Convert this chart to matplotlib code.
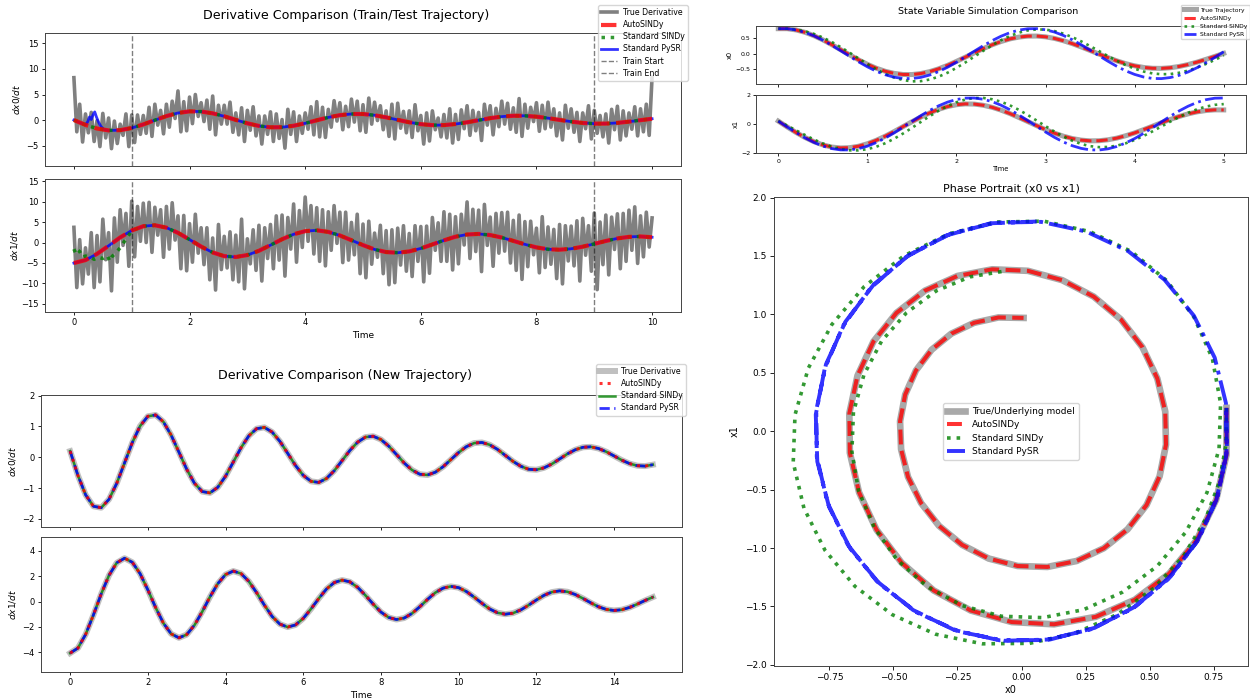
import numpy as np
import matplotlib
matplotlib.use("Agg")
import matplotlib.pyplot as plt

# ---------------- data ----------------
# Train/Test trajectory (smooth derivatives, dt = 0.2)
t_tr = np.linspace(0, 10, 51)
dx0_tr = [0.000, -0.946, -1.664, -2.026, -1.981, -1.557, -0.856, -0.021, 0.776, 1.384,
          1.697, 1.667, 1.319, 0.733, 0.035, -0.635, -1.151, -1.420, -1.403, -1.116,
          -0.630, -0.045, 0.520, 0.957, 1.189, 1.180, 0.937, 0.529, 0.038, -0.437,
          -0.803, -0.998, -0.991, -0.787, -0.444, -0.032, 0.367, 0.674, 0.838, 0.832,
          0.661, 0.373, 0.027, -0.308, -0.566, -0.704, -0.698, -0.555, -0.313, -0.023, 0.259]
dx1_tr = [-5.016, -4.293, -2.779, -0.804, 1.230, 2.927, 3.977, 4.213, 3.625, 2.369,
          0.717, -0.992, -2.426, -3.324, -3.538, -3.061, -2.019, -0.638, 0.797, 2.010,
          2.775, 2.971, 2.585, 1.720, 0.566, -0.640, -1.687, -2.330, -2.494, -2.170,
          -1.444, -0.475, 0.537, 1.416, 1.956, 2.094, 1.822, 1.212, 0.399, -0.451,
          -1.189, -1.642, -1.758, -1.530, -1.017, -0.335, 0.379, 0.998, 1.378, 1.476, 1.284]

# noisy "true" derivative: samples at t = 0.0, 0.1, ... (a) and t = 0.05, 0.15, ... (b)
t_noisy_a = np.linspace(0, 10, 101)
t_noisy_b = np.linspace(0.05, 9.95, 100)
dx0_noisy_a = [8.3, 3.1, 1.2, 1.5, -0.1, 1.3, 0.4, -0.2, -0.8, 1.2,
               1.0, 1.0, 0.9, 2.5, 3.1, 1.9, 3.1, 3.7, 5.7, 3.6,
               4.5, 5.0, 3.4, 3.9, 4.7, 2.9, 2.9, 3.5, 1.4, 2.4,
               1.9, 2.6, 0.8, 0.8, 1.6, 1.2, 0.1, 2.1, 1.6, 0.8,
               1.4, 2.6, 3.6, 2.5, 2.1, 3.8, 3.4, 2.7, 4.1, 3.7,
               3.0, 4.3, 3.5, 2.8, 1.8, 3.1, 3.3, 1.7, 1.8, 3.0,
               0.9, 1.4, 1.8, 0.4, 1.1, 2.2, 1.1, 2.0, 2.8, 1.9,
               1.5, 3.1, 2.8, 2.3, 3.7, 3.3, 2.4, 4.2, 3.1, 2.5,
               3.4, 2.9, 3.5, 2.2, 1.4, 2.9, 2.2, 1.5, 1.4, 2.8,
               1.9, 0.9, 1.2, 2.1, 2.7, 1.8, 1.4, 2.6, 2.2, 3.1, 8.5]
dx0_noisy_b = [-2.3, -4.3, -2.5, -4.2, -5.2, -3.5, -5.6, -4.6, -3.0, -5.2,
               -4.4, -2.8, -2.6, -3.2, -1.0, -2.7, -1.4, 0.3, -2.3, -2.1,
               -0.7, 0.7, -0.3, -1.8, -2.9, -0.8, -0.8, -2.4, -2.9, -4.2,
               -2.0, -3.1, -4.7, -2.8, -4.2, -3.6, -5.5, -2.8, -4.2, -2.6,
               -1.8, -2.9, -3.3, -3.4, -1.4, -0.2, -1.9, -1.3, -0.4, -2.1,
               -2.4, -0.8, -0.1, -1.9, -3.2, -3.7, -1.6, -2.5, -3.4, -2.1,
               -4.7, -4.1, -1.9, -3.3, -3.5, -4.5, -3.8, -1.7, -3.0, -2.1,
               -4.0, -1.0, -2.9, -1.3, -0.8, -1.8, -2.4, -3.2, -1.6, -0.3,
               -2.2, -1.7, -1.4, -3.1, -3.9, -1.6, -2.4, -4.2, -1.7, -3.7,
               -2.6, -3.3, -4.5, -1.9, -3.9, -3.1, -1.8, -3.1, -2.3, -3.0]
dx1_noisy_a = [3.7, 0.7, -1.3, 2.4, 1.7, 5.7, 2.4, 6.0, 8.0, 7.1,
               10.1, 8.8, 9.6, 9.8, 8.6, 8.0, 8.8, 9.7, 6.5, 6.6,
               4.6, 6.9, 3.6, 3.6, 1.1, 4.4, 1.5, 2.6, 1.8, 5.7,
               0.9, 3.1, 4.2, 3.6, 4.4, 6.5, 6.7, 6.1, 9.4, 7.8,
               11.1, 9.0, 8.5, 8.0, 7.5, 9.0, 7.4, 7.4, 4.9, 6.9,
               4.5, 5.2, 2.3, 4.2, 2.9, 3.1, 3.5, 4.1, 2.2, 4.1,
               3.9, 4.0, 6.1, 4.8, 7.5, 6.9, 6.3, 6.9, 9.9, 8.1,
               7.9, 9.3, 6.2, 7.1, 7.3, 7.4, 5.4, 6.7, 5.1, 5.2,
               3.5, 6.3, 3.8, 3.2, 4.4, 4.1, 4.0, 5.3, 5.9, 4.1,
               7.2, 5.0, 6.7, 6.2, 7.0, 7.1, 7.9, 8.7, 6.5, 7.4, 6.0]
dx1_noisy_b = [-11.0, -10.1, -7.7, -11.0, -9.6, -4.2, -11.8, -4.8, -0.7, -5.8,
               -3.5, 0.3, 0.0, -2.4, 1.8, -3.6, -1.6, 0.6, -6.4, -6.9,
               -4.8, -2.6, -5.4, -9.1, -11.6, -6.6, -6.2, -9.1, -9.6, -11.3,
               -5.2, -6.8, -9.4, -3.9, -6.4, -4.3, -8.2, -1.6, -4.8, -1.2,
               0.3, -2.8, -4.6, -5.7, -1.9, -0.2, -4.9, -4.3, -3.0, -7.6,
               -8.6, -5.3, -3.6, -7.6, -10.3, -9.8, -5.5, -7.0, -8.3, -4.6,
               -9.6, -7.5, -1.9, -4.6, -4.6, -6.7, -5.2, -0.6, -3.9, -2.2,
               -7.1, -0.7, -5.8, -2.6, -2.1, -5.0, -6.8, -9.0, -5.9, -3.0,
               -7.4, -6.1, -5.3, -8.8, -10.1, -4.5, -5.7, -9.4, -3.1, -7.0,
               -11.5, -5.4, -7.9, -1.7, -6.4, -4.6, -1.9, -5.1, -3.5, -1.1]

# early deviations of the baselines
t_pysr_early = [0.0, 0.1, 0.2, 0.24, 0.27, 0.30, 0.33, 0.36, 0.39, 0.43, 0.47, 0.52, 0.6]
dx0_pysr_early = [0.0, -0.49, -0.95, -0.3, 0.6, 0.1, 1.0, 1.6, 0.6, -0.5, -1.3, -1.85, -2.03]
t_sindy_early = [0.0, 0.03, 0.06, 0.1, 0.15, 0.2, 0.27, 0.35, 0.42, 0.5, 0.58, 0.62, 0.66,
                 0.72, 0.8, 0.88, 0.95, 1.0]
dx1_sindy_early = [-1.6, -2.6, -1.8, -2.2, -3.6, -3.3, -3.5, -4.1, -3.6, -3.9, -3.2, -4.6,
                   -3.4, -2.6, -1.3, 0.4, 1.8, 2.9]
train_start, train_end = 1.0, 9.0

# New trajectory (dt = 0.2)
t_new = np.linspace(0, 15, 76)
dx0_new = [0.200, -0.586, -1.220, -1.589, -1.634, -1.363, -0.843, -0.185, 0.476, 1.013,
           1.329, 1.373, 1.152, 0.719, 0.169, -0.386, -0.840, -1.111, -1.154, -0.973,
           -0.615, -0.154, 0.313, 0.697, 0.928, 0.970, 0.817, 0.516, 0.129, -0.263,
           -0.585, -0.779, -0.814, -0.686, -0.433, -0.108, 0.221, 0.491, 0.654, 0.683,
           0.576, 0.364, 0.091, -0.186, -0.412, -0.549, -0.573, -0.484, -0.306, -0.076,
           0.156, 0.346, 0.461, 0.481, 0.406, 0.257, 0.064, -0.131, -0.290, -0.387,
           -0.404, -0.341, -0.216, -0.054, 0.110, 0.243, 0.325, 0.339, 0.286, 0.181,
           0.045, -0.092, -0.204, -0.273, -0.285, -0.240]
dx1_new = [-4.062, -3.666, -2.583, -1.056, 0.600, 2.059, 3.050, 3.408, 3.091, 2.196,
           0.921, -0.469, -1.701, -2.545, -2.858, -2.606, -1.865, -0.801, 0.365, 1.404,
           2.121, 2.397, 2.198, 1.585, 0.697, -0.282, -1.179, -1.781, -2.012, -1.845,
           -1.331, -0.585, 0.237, 0.990, 1.495, 1.689, 1.549, 1.117, 0.491, -0.199,
           -0.831, -1.255, -1.418, -1.300, -0.938, -0.412, 0.167, 0.698, 1.054, 1.190,
           1.091, 0.787, 0.346, -0.140, -0.586, -0.885, -0.999, -0.916, -0.661, -0.290,
           0.118, 0.492, 0.743, 0.839, 0.769, 0.555, 0.243, -0.099, -0.413, -0.624,
           -0.704, -0.646, -0.466, -0.204, 0.083, 0.347]
# all three models coincide with the true derivative on the new trajectory
dx0_new_auto = dx0_new_sindy = dx0_new_pysr = dx0_new
dx1_new_auto = dx1_new_sindy = dx1_new_pysr = dx1_new

# State simulation (dt = 0.1)
t_state = np.linspace(0, 5, 51)
x0_true = [0.800, 0.800, 0.760, 0.684, 0.576, 0.442, 0.290, 0.127, -0.038, -0.198,
           -0.343, -0.468, -0.566, -0.634, -0.670, -0.672, -0.640, -0.578, -0.488, -0.377,
           -0.250, -0.114, 0.025, 0.159, 0.282, 0.388, 0.472, 0.530, 0.561, 0.564,
           0.539, 0.488, 0.414, 0.321, 0.215, 0.101, -0.015, -0.128, -0.232, -0.322,
           -0.392, -0.443, -0.470, -0.474, -0.454, -0.412, -0.351, -0.274, -0.185, -0.090, 0.008]
x1_true = [0.200, -0.203, -0.586, -0.930, -1.220, -1.443, -1.589, -1.653, -1.634, -1.535,
           -1.363, -1.126, -0.843, -0.524, -0.185, 0.153, 0.476, 0.767, 1.013, 1.203,
           1.329, 1.386, 1.373, 1.293, 1.152, 0.957, 0.719, 0.452, 0.169, -0.115,
           -0.386, -0.632, -0.840, -1.002, -1.111, -1.162, -1.154, -1.090, -0.973, -0.810,
           -0.615, -0.391, -0.154, 0.085, 0.313, 0.520, 0.697, 0.835, 0.928, 0.974, 0.970]
x0_auto, x1_auto = x0_true, x1_true
x0_sindy = [0.800, 0.798, 0.772, 0.717, 0.633, 0.518, 0.375, 0.210, 0.032, -0.153,
            -0.335, -0.504, -0.650, -0.767, -0.849, -0.891, -0.884, -0.832, -0.740, -0.614,
            -0.458, -0.284, -0.098, 0.088, 0.268, 0.429, 0.567, 0.673, 0.745, 0.777,
            0.771, 0.724, 0.641, 0.530, 0.394, 0.242, 0.083, -0.078, -0.230, -0.368,
            -0.485, -0.575, -0.636, -0.662, -0.656, -0.615, -0.546, -0.449, -0.332, -0.202, -0.063]
x1_sindy = [0.198, -0.111, -0.435, -0.759, -1.067, -1.341, -1.567, -1.729, -1.816, -1.820,
            -1.738, -1.571, -1.328, -1.019, -0.660, -0.268, 0.140, 0.540, 0.914, 1.238,
            1.503, 1.689, 1.791, 1.798, 1.708, 1.538, 1.289, 0.977, 0.622, 0.239,
            -0.150, -0.525, -0.864, -1.154, -1.378, -1.528, -1.596, -1.584, -1.494, -1.332,
            -1.102, -0.824, -0.510, -0.174, 0.163, 0.483, 0.772, 1.014, 1.202, 1.321, 1.372]
x0_pysr = [0.800, 0.800, 0.760, 0.682, 0.571, 0.431, 0.269, 0.094, -0.086, -0.262,
           -0.423, -0.566, -0.678, -0.757, -0.799, -0.801, -0.763, -0.687, -0.577, -0.438,
           -0.277, -0.103, 0.077, 0.253, 0.416, 0.558, 0.673, 0.754, 0.798, 0.802,
           0.766, 0.692, 0.583, 0.446, 0.286, 0.112, -0.068, -0.244, -0.408, -0.553,
           -0.668, -0.751, -0.797, -0.803, -0.768, -0.696, -0.589, -0.453, -0.294, -0.121, 0.059]
x1_pysr = [0.200, -0.202, -0.593, -0.955, -1.270, -1.521, -1.697, -1.788, -1.790, -1.702,
           -1.531, -1.281, -0.972, -0.613, -0.220, 0.181, 0.574, 0.938, 1.255, 1.510,
           1.690, 1.785, 1.792, 1.709, 1.542, 1.297, 0.988, 0.630, 0.240, -0.161,
           -0.555, -0.921, -1.241, -1.499, -1.683, -1.783, -1.794, -1.715, -1.552, -1.309,
           -1.006, -0.649, -0.260, 0.142, 0.536, 0.903, 1.226, 1.488, 1.675, 1.780, 1.795]

# ---------------- figure ----------------
W, H = 1250, 698
fig = plt.figure(figsize=(W / 100, H / 100), dpi=100)
ROUND = dict(solid_joinstyle='round', dash_joinstyle='round')


def add_ax(l, t, r, b):
    return fig.add_axes([l / W, 1 - b / H, (r - l) / W, (b - t) / H])


def fig_xy(x, y):
    return (x / W, 1 - y / H)


def style(ax, size, length):
    ax.tick_params(labelsize=size, length=length, width=0.6, pad=2)
    for s in ax.spines.values():
        s.set_linewidth(0.7)
        s.set_color('#444444')


def merged(ta, va, tb, vb):
    t = np.concatenate([ta, tb])
    v = np.concatenate([va, vb])
    order = np.argsort(t, kind='stable')
    return t[order], v[order]


# ---- Train/Test trajectory ----
ax1 = add_ax(45, 33, 681, 166)
ax2 = add_ax(45, 179, 681, 312)

t_n0, v_n0 = merged(t_noisy_a, dx0_noisy_a, t_noisy_b, dx0_noisy_b)
t_n1, v_n1 = merged(t_noisy_a, dx1_noisy_a, t_noisy_b, dx1_noisy_b)
t_pysr_dx0 = np.concatenate([t_pysr_early, t_tr[4:]])
v_pysr_dx0 = np.concatenate([dx0_pysr_early, dx0_tr[4:]])
t_sindy_dx1 = np.concatenate([t_sindy_early, t_tr[6:]])
v_sindy_dx1 = np.concatenate([dx1_sindy_early, dx1_tr[6:]])

ax1.plot(t_n0, v_n0, color='gray', lw=2.6, label='True Derivative', zorder=1)
ax1.plot(t_tr, dx0_tr, color='red', ls='--', lw=3, alpha=0.8, label='AutoSINDy', zorder=4)
ax1.plot(t_tr, dx0_tr, color='green', ls=':', lw=2.5, alpha=0.8, label='Standard SINDy', zorder=3)
ax1.plot(t_pysr_dx0, v_pysr_dx0, color='blue', lw=2, alpha=0.8, label='Standard PySR', zorder=2)
ax1.axvline(train_start, color='k', ls='--', lw=1, alpha=0.5, label='Train Start')
ax1.axvline(train_end, color='k', ls='--', lw=1, alpha=0.5, label='Train End')

ax2.plot(t_n1, v_n1, color='gray', lw=2.6, zorder=1)
ax2.plot(t_tr, dx1_tr, color='blue', lw=2, alpha=0.8, zorder=2)
ax2.plot(t_sindy_dx1, v_sindy_dx1, color='green', ls=':', lw=2.5, alpha=0.8, zorder=3)
ax2.plot(t_tr, dx1_tr, color='red', ls='--', lw=3, alpha=0.8, zorder=4)
ax2.axvline(train_start, color='k', ls='--', lw=1, alpha=0.5)
ax2.axvline(train_end, color='k', ls='--', lw=1, alpha=0.5)

for ax in (ax1, ax2):
    ax.set_xlim(-0.5, 10.5)
    ax.set_xticks([0, 2, 4, 6, 8, 10])
    style(ax, 6, 2.5)
ax1.set_ylim(-9.0, 17.05)
ax1.set_yticks([-5, 0, 5, 10, 15])
ax2.set_ylim(-16.96, 15.5)
ax2.set_yticks([-15, -10, -5, 0, 5, 10, 15])
ax1.tick_params(labelbottom=False)
ax1.set_ylabel(r'$dx0/dt$', fontsize=6.5, labelpad=3)
ax2.set_ylabel(r'$dx1/dt$', fontsize=6.5, labelpad=1)
ax2.set_xlabel('Time', fontsize=6.5, labelpad=3)
fig.text(*fig_xy(346, 16), 'Derivative Comparison (Train/Test Trajectory)',
         ha='center', va='center', fontsize=9.1)
ax1.legend(loc='upper right', bbox_to_anchor=fig_xy(688, 5), bbox_transform=fig.transFigure,
           fontsize=5.6, borderaxespad=0, labelspacing=0.4)

# ---- New trajectory ----
ax3 = add_ax(41, 395, 682, 527)
ax4 = add_ax(41, 537, 682, 672)
ax3.plot(t_new, dx0_new, color='silver', lw=4.3, label='True Derivative', zorder=1, **ROUND)
ax3.plot(t_new, dx0_new_auto, color='red', ls=':', lw=2.2, alpha=0.8, label='AutoSINDy', zorder=5)
ax3.plot(t_new, dx0_new_sindy, color='green', lw=1.8, alpha=0.8, label='Standard SINDy', zorder=3, **ROUND)
ax3.plot(t_new, dx0_new_pysr, color='blue', ls='--', lw=2, alpha=0.8, label='Standard PySR', zorder=4, **ROUND)
ax4.plot(t_new, dx1_new, color='silver', lw=4.3, zorder=1, **ROUND)
ax4.plot(t_new, dx1_new_auto, color='red', ls=':', lw=2.2, alpha=0.8, zorder=5)
ax4.plot(t_new, dx1_new_sindy, color='green', lw=1.8, alpha=0.8, zorder=3, **ROUND)
ax4.plot(t_new, dx1_new_pysr, color='blue', ls='--', lw=2, alpha=0.8, zorder=4, **ROUND)
for ax in (ax3, ax4):
    ax.set_xlim(-0.75, 15.75)
    ax.set_xticks([0, 2, 4, 6, 8, 10, 12, 14])
    style(ax, 6, 2.5)
ax3.set_ylim(-2.26, 2.02)
ax3.set_yticks([-2, -1, 0, 1, 2])
ax4.set_ylim(-5.55, 5.08)
ax4.set_yticks([-4, -2, 0, 2, 4])
ax3.tick_params(labelbottom=False)
ax3.set_ylabel(r'$dx0/dt$', fontsize=6.5, labelpad=3)
ax4.set_ylabel(r'$dx1/dt$', fontsize=6.5, labelpad=3)
ax4.set_xlabel('Time', fontsize=6.5, labelpad=3)
fig.text(*fig_xy(345, 376), 'Derivative Comparison (New Trajectory)',
         ha='center', va='center', fontsize=9.1)
ax3.legend(loc='upper right', bbox_to_anchor=fig_xy(686, 364), bbox_transform=fig.transFigure,
           fontsize=5.6, borderaxespad=0, labelspacing=0.4)

# ---- State variable simulation ----
ax5 = add_ax(756, 26, 1246, 84)
ax6 = add_ax(756, 95, 1246, 153)
for ax, tr, au, si, py in ((ax5, x0_true, x0_auto, x0_sindy, x0_pysr),
                           (ax6, x1_true, x1_auto, x1_sindy, x1_pysr)):
    ax.plot(t_state, tr, color='gray', lw=3.6, alpha=0.7, label='True Trajectory', **ROUND)
    ax.plot(t_state, au, color='red', ls='--', lw=2.2, alpha=0.8, label='AutoSINDy', **ROUND)
    ax.plot(t_state, si, color='green', ls=':', lw=1.9, alpha=0.8, label='Standard SINDy')
    ax.plot(t_state, py, color='blue', ls='-.', lw=2, alpha=0.8, label='Standard PySR', **ROUND)
    ax.set_xlim(-0.25, 5.25)
    ax.set_xticks([0, 1, 2, 3, 4, 5])
    style(ax, 4.5, 2)
ax5.set_yticks([-0.5, 0.0, 0.5])
ax6.set_yticks([-2, 0, 2])
ax5.tick_params(labelbottom=False)
ax5.set_ylabel('x0', fontsize=4.8, labelpad=2)
ax6.set_ylabel('x1', fontsize=4.8, labelpad=2)
ax6.set_xlabel('Time', fontsize=4.8, labelpad=2)
fig.text(*fig_xy(988, 11), 'State Variable Simulation Comparison',
         ha='center', va='center', fontsize=6.8)
ax5.legend(loc='upper right', bbox_to_anchor=fig_xy(1250, 5), bbox_transform=fig.transFigure,
           fontsize=4.3, borderaxespad=0)

# ---- Phase portrait ----
ax7 = add_ax(774, 197, 1248, 666)
ax7.plot(x0_true, x1_true, color='darkgray', lw=4.8, label='True/Underlying model', **ROUND)
ax7.plot(x0_auto, x1_auto, color='red', ls='--', lw=2.9, alpha=0.8, label='AutoSINDy', **ROUND)
ax7.plot(x0_sindy, x1_sindy, color='green', ls=':', lw=2.6, alpha=0.8, label='Standard SINDy')
ax7.plot(x0_pysr, x1_pysr, color='blue', ls='-.', lw=2.8, alpha=0.8, label='Standard PySR', **ROUND)
ax7.set_xlim(-0.966, 0.884)
ax7.set_ylim(-2.01, 2.005)
style(ax7, 6.5, 3)
ax7.set_xlabel('x0', fontsize=7, labelpad=2)
ax7.set_ylabel('x1', fontsize=7, labelpad=4)
ax7.set_title('Phase Portrait (x0 vs x1)', fontsize=8.0, pad=4)
ax7.legend(loc='center', fontsize=6.5)

fig.savefig('out.png', dpi=100)
